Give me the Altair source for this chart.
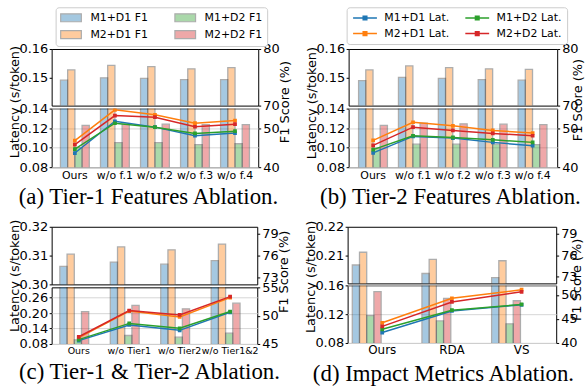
import altair as alt
import pandas as pd

BAR_SERIES = ["M1+D1 F1", "M2+D1 F1", "M1+D2 F1", "M2+D2 F1"]
LAT_SERIES = ["M1+D1 Lat.", "M2+D1 Lat.", "M1+D2 Lat.", "M2+D2 Lat."]
SERIES_COLORS = ["#1f77b4", "#ff7f0e", "#2ca02c", "#d62728"]

# (a) Tier-1 features ablation
a_categories = ["Ours", "w/o f.1", "w/o f.2", "w/o f.3", "w/o f.4"]
a_f1_m1d1 = [74.5, 74.9, 74.8, 74.6, 74.6]
a_f1_m2d1 = [76.3, 77.1, 76.9, 76.5, 76.7]
a_f1_m1d2 = [45.0, 46.3, 46.3, 45.8, 46.0]
a_f1_m2d2 = [50.7, 51.0, 51.0, 50.9, 50.9]
a_lat_m1d1 = [0.0945, 0.127, 0.121, 0.1122, 0.1149]
a_lat_m2d1 = [0.1072, 0.1387, 0.1336, 0.1251, 0.1278]
a_lat_m1d2 = [0.0986, 0.125, 0.121, 0.1146, 0.1169]
a_lat_m2d2 = [0.1031, 0.1328, 0.1312, 0.1214, 0.124]

# (b) Tier-2 features ablation
b_categories = ["Ours", "w/o f.1", "w/o f.2", "w/o f.3", "w/o f.4"]
b_f1_m1d1 = [74.4, 75.0, 74.8, 74.6, 74.5]
b_f1_m2d1 = [76.3, 77.0, 76.7, 76.5, 76.4]
b_f1_m1d2 = [44.9, 45.9, 45.9, 45.9, 45.8]
b_f1_m2d2 = [50.7, 51.3, 51.1, 51.0, 50.9]
b_lat_m1d1 = [0.0946, 0.1115, 0.1098, 0.1054, 0.102]
b_lat_m2d1 = [0.1075, 0.126, 0.1224, 0.1176, 0.115]
b_lat_m1d2 = [0.098, 0.1122, 0.1105, 0.108, 0.1054]
b_lat_m2d2 = [0.1024, 0.121, 0.1176, 0.1146, 0.1122]

# (c) Tier-1 & Tier-2 ablation
c_categories = ["Ours", "w/o Tier1", "w/o Tier2", "w/o Tier1&2"]
c_f1_m1d1 = [74.5, 75.1, 74.8, 75.3]
c_f1_m2d1 = [76.2, 77.2, 76.8, 77.6]
c_f1_m1d2 = [45.7, 46.5, 46.2, 46.9]
c_f1_m2d2 = [50.7, 51.8, 51.2, 52.2]
c_lat_m1d1 = [0.093, 0.154, 0.133, 0.203]
c_lat_m2d1 = [0.105, 0.208, 0.185, 0.260]
c_lat_m1d2 = [0.097, 0.160, 0.141, 0.206]
c_lat_m2d2 = [0.108, 0.210, 0.193, 0.264]

# (d) Impact metrics ablation
d_categories = ["Ours", "RDA", "VS"]
d_f1_m1d1 = [74.6, 73.4, 72.8]
d_f1_m2d1 = [76.4, 75.4, 75.2]
d_f1_m1d2 = [45.7, 44.6, 44.0]
d_f1_m2d2 = [50.7, 49.3, 48.8]
d_lat_m1d1 = [0.0945, 0.1245, 0.133]
d_lat_m2d1 = [0.108, 0.142, 0.154]
d_lat_m1d2 = [0.099, 0.1255, 0.1335]
d_lat_m2d2 = [0.103, 0.137, 0.151]


def long_frames(cats, f1_lists, lat_lists):
    b = pd.DataFrame([
        {"cat": c, "idx": i, "series": s, "f1": v}
        for s, vals in zip(BAR_SERIES, f1_lists)
        for i, (c, v) in enumerate(zip(cats, vals))
    ])
    l = pd.DataFrame([
        {"cat": c, "idx": i, "series": s, "lat": v}
        for s, vals in zip(LAT_SERIES, lat_lists)
        for i, (c, v) in enumerate(zip(cats, vals))
    ])
    return b, l


def subplot(cats, bdf, ldf, p, bottom, bar_legend=None, line_legend=None):
    W = p["W"]
    H = p["HB"] if bottom else p["HT"]
    if bottom:
        xaxis = alt.Axis(
            title=p["caption"], labelAngle=0, ticks=False, tickSize=0, domain=False,
            grid=False, labelFontSize=p["xfs"], labelPadding=2, labelOverlap=False,
            titleFont="Liberation Serif", titleFontSize=23, titleFontWeight="normal",
            titleX=p["capx"], titleY=p["capy"], titleAlign="center",
            titleBaseline="alphabetic", titleAngle=0,
        )
    else:
        xaxis = None
    xenc = alt.X("cat:N", sort=cats,
                 scale=alt.Scale(paddingInner=p["pin"], paddingOuter=p["pout"]),
                 axis=xaxis)

    ldom = p["lb"] if bottom else p["lt"]
    lvals = p["lbv"] if bottom else p["ltv"]
    rdom = p["rb"] if bottom else p["rt"]
    rvals = p["rbv"] if bottom else p["rtv"]

    lk = dict(orient="left", values=lvals, format=".2f", tickSize=2.5, labelPadding=1.5,
              labelFontSize=13, domain=False, labelOverlap=False, labelFlush=False,
              grid=bottom)
    rk = dict(orient="right", values=rvals, format="d", tickSize=2.5, labelPadding=2,
              labelFontSize=13, domain=False, labelOverlap=False, labelFlush=False,
              grid=False)
    if bottom:
        lk.update(gridColor="#d6d6d6", title="Latency (s/token)", titleFontSize=13,
                  titleFontWeight="normal", titleAngle=270, titleBaseline="bottom",
                  titleAlign="center", titleX=p["ltx"], titleY=p["lty"])
        rk.update(title="F1 Score (%)", titleFontSize=13, titleFontWeight="normal",
                  titleAngle=270, titleBaseline="top", titleAlign="center",
                  titleX=p["rtx"], titleY=p["rty"])
    else:
        lk["title"] = None
        rk["title"] = None

    bars = alt.Chart(bdf).mark_bar(
        clip=True, opacity=0.4, stroke="#333333", strokeWidth=1.3
    ).encode(
        x=xenc,
        xOffset=alt.XOffset("series:N", sort=BAR_SERIES,
                            scale=alt.Scale(paddingInner=0, paddingOuter=0)),
        y=alt.Y("f1:Q", scale=alt.Scale(domain=rdom, nice=False, zero=False),
                axis=alt.Axis(**rk)),
        color=alt.Color("series:N",
                        scale=alt.Scale(domain=BAR_SERIES, range=SERIES_COLORS),
                        legend=bar_legend),
    )
    yl = alt.Y("lat:Q", scale=alt.Scale(domain=ldom, nice=False, zero=False),
               axis=alt.Axis(**lk))
    cl = alt.Color("series:N",
                   scale=alt.Scale(domain=LAT_SERIES, range=SERIES_COLORS),
                   legend=line_legend)
    line = alt.Chart(ldf).mark_line(clip=True, strokeWidth=1.5).encode(
        x=xenc, y=yl, color=cl, order=alt.Order("idx:Q"))
    pts = alt.Chart(ldf).mark_point(clip=True, filled=True, shape="square",
                                    size=14, opacity=1).encode(x=xenc, y=yl, color=cl)
    return alt.layer(bars, alt.layer(line, pts)).resolve_scale(
        y="independent", color="independent").properties(width=W, height=H)


def panel(cats, f1_lists, lat_lists, p, bar_legend=None, line_legend=None):
    bdf, ldf = long_frames(cats, f1_lists, lat_lists)
    top = subplot(cats, bdf, ldf, p, False, bar_legend, line_legend)
    bot = subplot(cats, bdf, ldf, p, True)
    return alt.vconcat(top, bot, spacing=p["gap"], bounds="flush").resolve_scale(
        x="independent", y="independent", color="independent")


bar_legend = alt.Legend(
    title=None, orient="none", legendX=4, legendY=-42, columns=2,
    symbolType="M-2.6,-1H2.6V1H-2.6Z", symbolSize=64, symbolOpacity=0.4,
    symbolStrokeColor="#333333", symbolStrokeWidth=1.2, symbolOffset=5,
    labelFontSize=11, labelOffset=14, columnPadding=24, rowPadding=4, padding=5,
    strokeColor="#cccccc", cornerRadius=3, fillColor="white",
)
line_legend = alt.Legend(
    title=None, orient="none", legendX=-2, legendY=-42, columns=2,
    symbolType="M-6,0H6M-0.9,-0.9H0.9V0.9H-0.9Z", symbolSize=16,
    symbolStrokeWidth=1.5, symbolOffset=8,
    labelFontSize=11, labelOffset=14, columnPadding=12, rowPadding=4, padding=5,
    strokeColor="#cccccc", cornerRadius=3, fillColor="white",
)

common_ab = dict(HT=57, HB=59, gap=3, lt=[0.14, 0.16], ltv=[0.15, 0.16],
                 lb=[0.08, 0.14], lbv=[0.08, 0.10, 0.12, 0.14],
                 rt=[70, 80], rtv=[70, 80], rb=[40, 55], rbv=[40, 50], xfs=11)
pa = dict(common_ab, W=208, pin=0.28, pout=0.22, caption="(a) Tier-1 Features Ablation.",
          capx=97, capy=37, ltx=-30, lty=-7, rtx=20, rty=-7)
pb = dict(common_ab, W=210, pin=0.27, pout=0.25, caption="(b) Tier-2 Features Ablation.",
          capx=102, capy=37, ltx=-30, lty=-6, rtx=14, rty=-9)
pc = dict(W=207, HT=58, HB=57, gap=3, pin=0.25, pout=0.163,
          lt=[0.30, 0.32], ltv=[0.30, 0.31, 0.32], lb=[0.08, 0.30], lbv=[0.08, 0.14, 0.20, 0.26],
          rt=[72, 80], rtv=[73, 76, 79], rb=[45, 55], rbv=[45, 50, 55], xfs=9.5,
          caption="(c) Tier-1 & Tier-2 Ablation.", capx=98, capy=35,
          ltx=-30, lty=-12, rtx=20, rty=-16)
pd_ = dict(W=210, HT=57, HB=58, gap=2, pin=0.14, pout=0.067,
           lt=[0.20, 0.22], ltv=[0.21, 0.22], lb=[0.08, 0.16], lbv=[0.08, 0.12, 0.16],
           rt=[72, 80], rtv=[73, 76, 79], rb=[40, 52], rbv=[40, 45, 50], xfs=12,
           caption="(d) Impact Metrics Ablation.", capx=96, capy=38,
           ltx=-30, lty=-9, rtx=14, rty=-6)

panel_a = panel(a_categories, [a_f1_m1d1, a_f1_m2d1, a_f1_m1d2, a_f1_m2d2],
                [a_lat_m1d1, a_lat_m2d1, a_lat_m1d2, a_lat_m2d2], pa, bar_legend=bar_legend)
panel_b = panel(b_categories, [b_f1_m1d1, b_f1_m2d1, b_f1_m1d2, b_f1_m2d2],
                [b_lat_m1d1, b_lat_m2d1, b_lat_m1d2, b_lat_m2d2], pb, line_legend=line_legend)
panel_c = panel(c_categories, [c_f1_m1d1, c_f1_m2d1, c_f1_m1d2, c_f1_m2d2],
                [c_lat_m1d1, c_lat_m2d1, c_lat_m1d2, c_lat_m2d2], pc)
panel_d = panel(d_categories, [d_f1_m1d1, d_f1_m2d1, d_f1_m1d2, d_f1_m2d2],
                [d_lat_m1d1, d_lat_m2d1, d_lat_m1d2, d_lat_m2d2], pd_)

RES = dict(x="independent", y="independent", color="independent")
row_ab = alt.hconcat(panel_a, panel_b, spacing=13).resolve_scale(**RES)
row_cd = alt.hconcat(panel_c, panel_d, spacing=13).resolve_scale(**RES)

chart = alt.vconcat(row_ab, row_cd, spacing=8).resolve_scale(**RES).properties(
    padding={"left": 8, "top": 5, "right": 0, "bottom": 0},
    background="white",
).configure_view(
    stroke="black", strokeWidth=1
).configure_axis(
    labelFont="DejaVu Sans", titleFont="DejaVu Sans", labelColor="black",
    titleColor="black", tickColor="black", tickWidth=1,
).configure_legend(
    labelFont="DejaVu Sans", labelColor="black",
)

chart.save("out.html", embed_options={"renderer": "svg", "actions": False})
